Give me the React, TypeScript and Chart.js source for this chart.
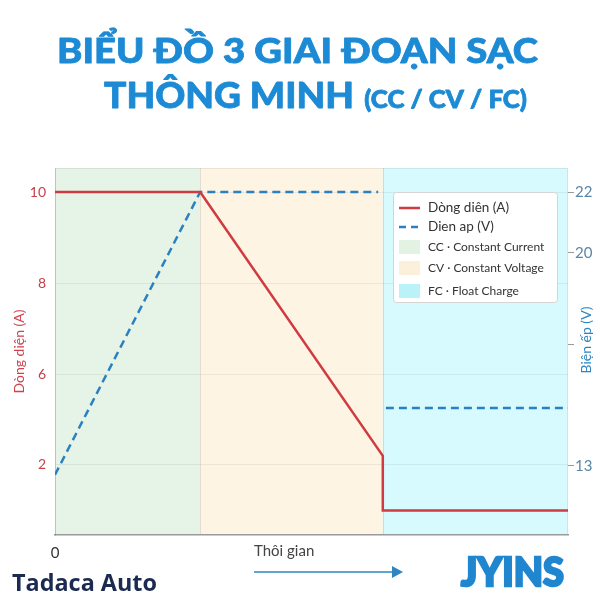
import { useEffect, useRef } from 'react';
import { Chart, registerables } from 'chart.js';

Chart.register(...registerables);

// ---- Text ----
const titleLine1 = 'BIỂU ĐỒ 3 GIAI ĐOẠN SẠC';
const titleLine2Main = 'THÔNG MINH';
const titleLine2Sub = '(CC / CV / FC)';
const currentLabel = 'Dòng diên (A)';
const voltageLabel = 'Dien ap (V)';
const currentAxisTitle = 'Dòng diện (A)';
const voltageAxisTitle = 'Biện ếp (V)';
const timeAxisTitle = 'Thôi gian';
const brandLeft = 'Tadaca Auto';
const brandRight = 'JYINS';

// ---- Phases ----
const phaseNames = ['CC · Constant Current', 'CV · Constant Voltage', 'FC · Float Charge'];
const phaseStarts = [0, 28.3, 63.9];
const phaseEnds = [28.3, 63.9, 100];
const phaseColors = ['#e5f4e6', '#fdf4e3', '#d6fafe'];
const phaseSwatchColors = ['#e2f3e3', '#fdf0da', '#b9f2f9'];

// ---- Series ----
const currentTimes = [0, 28.3, 63.9, 63.9, 100];
const currentValues = [10, 10, 4.2, 3.0, 3.0];
const voltageTimes = [0, 28.3, 63.0, 63.5, 64.5, 100];
const voltageValues: (number | null)[] = [12.7, 22, 22, null, 14.9, 14.9];

// ---- Ticks ----
const timeTicks = [0];
const timeTickLabels = ['0'];
const currentTicks = [4, 6, 8, 10];
const currentTickLabels = ['2', '6', '8', '10'];
const voltageTicks = [13, 17, 20, 22];
const voltageTickLabels = ['13', '', '20', '22'];

const RED = '#cf3b40';
const BLUE = '#2b80c2';
const FONT = 'Lato, "Open Sans", sans-serif';

const decorPlugin = {
  id: 'decor',
  beforeDraw(chart: any) {
    const { ctx, chartArea } = chart;
    const { top, bottom, left, right } = chartArea;
    const x = chart.scales.x;
    ctx.save();
    phaseStarts.forEach((s, i) => {
      const x0 = x.getPixelForValue(s);
      const x1 = x.getPixelForValue(phaseEnds[i]);
      ctx.fillStyle = phaseColors[i];
      ctx.fillRect(x0, top, x1 - x0, bottom - top);
    });
    ctx.strokeStyle = 'rgba(0,0,0,0.10)';
    ctx.lineWidth = 1;
    phaseStarts.slice(1).forEach((s) => {
      const px = Math.round(x.getPixelForValue(s)) + 0.5;
      ctx.beginPath();
      ctx.moveTo(px, top);
      ctx.lineTo(px, bottom);
      ctx.stroke();
    });
    ctx.strokeStyle = 'rgba(0,0,0,0.07)';
    ctx.strokeRect(left + 0.5, top + 0.5, right - left - 1, bottom - top - 1);
    ctx.restore();
  },
  afterDraw(chart: any) {
    const { ctx } = chart;
    ctx.save();

    // Title
    ctx.fillStyle = '#1c8ad4';
    ctx.strokeStyle = '#1c8ad4';
    ctx.lineJoin = 'round';
    ctx.textBaseline = 'alphabetic';
    ctx.textAlign = 'left';
    ctx.font = `900 35px ${FONT}`;
    const w1 = ctx.measureText(titleLine1).width;
    ctx.save();
    ctx.translate(57, 63);
    ctx.scale(481 / w1, 1);
    ctx.lineWidth = 0.8;
    ctx.fillText(titleLine1, 0, 0);
    ctx.strokeText(titleLine1, 0, 0);
    ctx.restore();

    ctx.font = `900 36px ${FONT}`;
    const wm = ctx.measureText(titleLine2Main).width;
    ctx.font = `900 25px ${FONT}`;
    const ws = ctx.measureText(titleLine2Sub).width;
    const gap = 10;
    const k2 = 423 / (wm + gap + ws);
    ctx.save();
    ctx.translate(104, 108);
    ctx.scale(k2, 1);
    ctx.lineWidth = 0.8;
    ctx.font = `900 36px ${FONT}`;
    ctx.fillText(titleLine2Main, 0, 0);
    ctx.strokeText(titleLine2Main, 0, 0);
    ctx.font = `900 25px ${FONT}`;
    ctx.fillText(titleLine2Sub, wm + gap, 0);
    ctx.strokeText(titleLine2Sub, wm + gap, 0);
    ctx.restore();

    // Legend
    const lx = 393, ly = 192, lw = 164, lh = 110;
    ctx.fillStyle = '#ffffff';
    ctx.strokeStyle = '#d4d4d4';
    ctx.lineWidth = 1;
    ctx.beginPath();
    ctx.roundRect(lx + 0.5, ly + 0.5, lw, lh, 3);
    ctx.fill();
    ctx.stroke();
    ctx.textBaseline = 'middle';
    const rows = [208, 227, 247, 268, 291];
    ctx.lineWidth = 2.5;
    ctx.strokeStyle = RED;
    ctx.beginPath();
    ctx.moveTo(399, rows[0]);
    ctx.lineTo(420, rows[0]);
    ctx.stroke();
    ctx.strokeStyle = BLUE;
    ctx.setLineDash([7, 5]);
    ctx.beginPath();
    ctx.moveTo(399, rows[1]);
    ctx.lineTo(420, rows[1]);
    ctx.stroke();
    ctx.setLineDash([]);
    ctx.font = `13.5px ${FONT}`;
    ctx.fillStyle = '#333';
    ctx.fillText(currentLabel, 428, rows[0]);
    ctx.fillText(voltageLabel, 428, rows[1]);
    phaseNames.forEach((n, i) => {
      const y = rows[i + 2];
      ctx.fillStyle = phaseSwatchColors[i];
      ctx.fillRect(399, y - 7, 21, 14);
      ctx.fillStyle = '#333';
      ctx.font = `12px ${FONT}`;
      ctx.fillText(n, 428, y);
    });

    // Right axis title
    ctx.save();
    ctx.translate(586, 340);
    ctx.rotate(-Math.PI / 2);
    ctx.textAlign = 'center';
    ctx.textBaseline = 'middle';
    ctx.fillStyle = '#2e86c1';
    ctx.font = `14px ${FONT}`;
    ctx.fillText(voltageAxisTitle, 0, 0);
    ctx.restore();

    // Time axis title + arrow
    ctx.textAlign = 'left';
    ctx.textBaseline = 'middle';
    ctx.fillStyle = '#444';
    ctx.font = `15px ${FONT}`;
    ctx.fillText(timeAxisTitle, 254, 551);
    ctx.strokeStyle = '#2e86c1';
    ctx.fillStyle = '#2e86c1';
    ctx.lineWidth = 1.6;
    ctx.beginPath();
    ctx.moveTo(254, 572);
    ctx.lineTo(396, 572);
    ctx.stroke();
    ctx.beginPath();
    ctx.moveTo(403, 572);
    ctx.lineTo(392, 566);
    ctx.lineTo(392, 578);
    ctx.closePath();
    ctx.fill();

    // Brands
    ctx.textBaseline = 'alphabetic';
    ctx.fillStyle = '#1b2a50';
    ctx.font = `700 23px "Open Sans", sans-serif`;
    const wb = ctx.measureText(brandLeft).width;
    ctx.save();
    ctx.translate(12, 591);
    ctx.scale(145 / wb, 1);
    ctx.fillText(brandLeft, 0, 0);
    ctx.restore();

    ctx.fillStyle = '#1f86cf';
    ctx.strokeStyle = '#1f86cf';
    ctx.font = `900 40px Lato, sans-serif`;
    const wj = ctx.measureText(brandRight).width;
    ctx.save();
    ctx.translate(461, 586);
    ctx.scale(103 / wj, 1);
    ctx.lineWidth = 2.5;
    ctx.lineJoin = 'miter';
    ctx.fillText(brandRight, 0, 0);
    ctx.strokeText(brandRight, 0, 0);
    ctx.restore();

    ctx.restore();
  },
};

export default function App() {
  const ref = useRef<HTMLCanvasElement | null>(null);
  useEffect(() => {
    if (!ref.current) return;
    const chart = new Chart(ref.current, {
      type: 'line',
      data: {
        datasets: [
          {
            label: currentLabel,
            data: currentTimes.map((t, i) => ({ x: t, y: currentValues[i] })),
            borderColor: RED,
            borderWidth: 2.5,
            pointRadius: 0,
            tension: 0,
            yAxisID: 'y',
          },
          {
            label: voltageLabel,
            data: voltageTimes.map((t, i) => ({ x: t, y: voltageValues[i] })) as any,
            borderColor: BLUE,
            borderWidth: 2.5,
            borderDash: [8, 5],
            pointRadius: 0,
            tension: 0,
            spanGaps: false,
            yAxisID: 'y1',
          },
        ],
      },
      options: {
        responsive: false,
        animation: false,
        layout: { padding: { top: 168, left: 0, right: 0, bottom: 0 } },
        plugins: { legend: { display: false }, tooltip: { enabled: false }, title: { display: false } },
        scales: {
          x: {
            type: 'linear',
            min: 0,
            max: 100,
            grid: { display: false },
            border: { display: true, color: '#9a9a9a', width: 1.5 },
            afterBuildTicks: (s: any) => {
              s.ticks = timeTicks.map((v) => ({ value: v }));
            },
            afterFit: (s: any) => {
              s.height = 65;
            },
            ticks: {
              autoSkip: false,
              maxRotation: 0,
              padding: 1,
              color: '#333',
              font: { family: FONT, size: 15 },
              callback: (v: any) => timeTickLabels[timeTicks.indexOf(v)] ?? '',
            },
          },
          y: {
            type: 'linear',
            position: 'left',
            min: 2.46,
            max: 10.53,
            grid: { color: 'rgba(0,0,0,0.06)', drawTicks: false },
            border: { display: true, color: 'rgba(0,0,0,0.12)' },
            afterBuildTicks: (s: any) => {
              s.ticks = currentTicks.map((v) => ({ value: v }));
            },
            afterFit: (s: any) => {
              s.width = 55;
            },
            ticks: {
              autoSkip: false,
              padding: 9,
              color: '#c8404a',
              font: { family: FONT, size: 14 },
              callback: (v: any) => currentTickLabels[currentTicks.indexOf(v)] ?? '',
            },
            title: {
              display: true,
              text: currentAxisTitle,
              color: '#d0434d',
              font: { family: FONT, size: 14 },
              padding: { top: 11, bottom: 0 },
            },
          },
          y1: {
            type: 'linear',
            position: 'right',
            min: 10.72,
            max: 22.79,
            grid: { drawOnChartArea: false, drawTicks: true, tickLength: 6, tickColor: '#9a9a9a' },
            border: { display: false },
            afterBuildTicks: (s: any) => {
              s.ticks = voltageTicks.map((v) => ({ value: v }));
            },
            afterFit: (s: any) => {
              s.width = 32;
            },
            ticks: {
              autoSkip: false,
              padding: 1,
              color: '#5a87a6',
              font: { family: FONT, size: 15 },
              callback: (v: any) => voltageTickLabels[voltageTicks.indexOf(v)] ?? '',
            },
          },
        },
      },
      plugins: [decorPlugin],
    });
    return () => chart.destroy();
  }, []);
  return (
    <div style={{ position: 'absolute', left: 0, top: 0, width: 600, height: 600, background: '#fff' }}>
      <canvas ref={ref} width={600} height={600} style={{ display: 'block' }} />
    </div>
  );
}
